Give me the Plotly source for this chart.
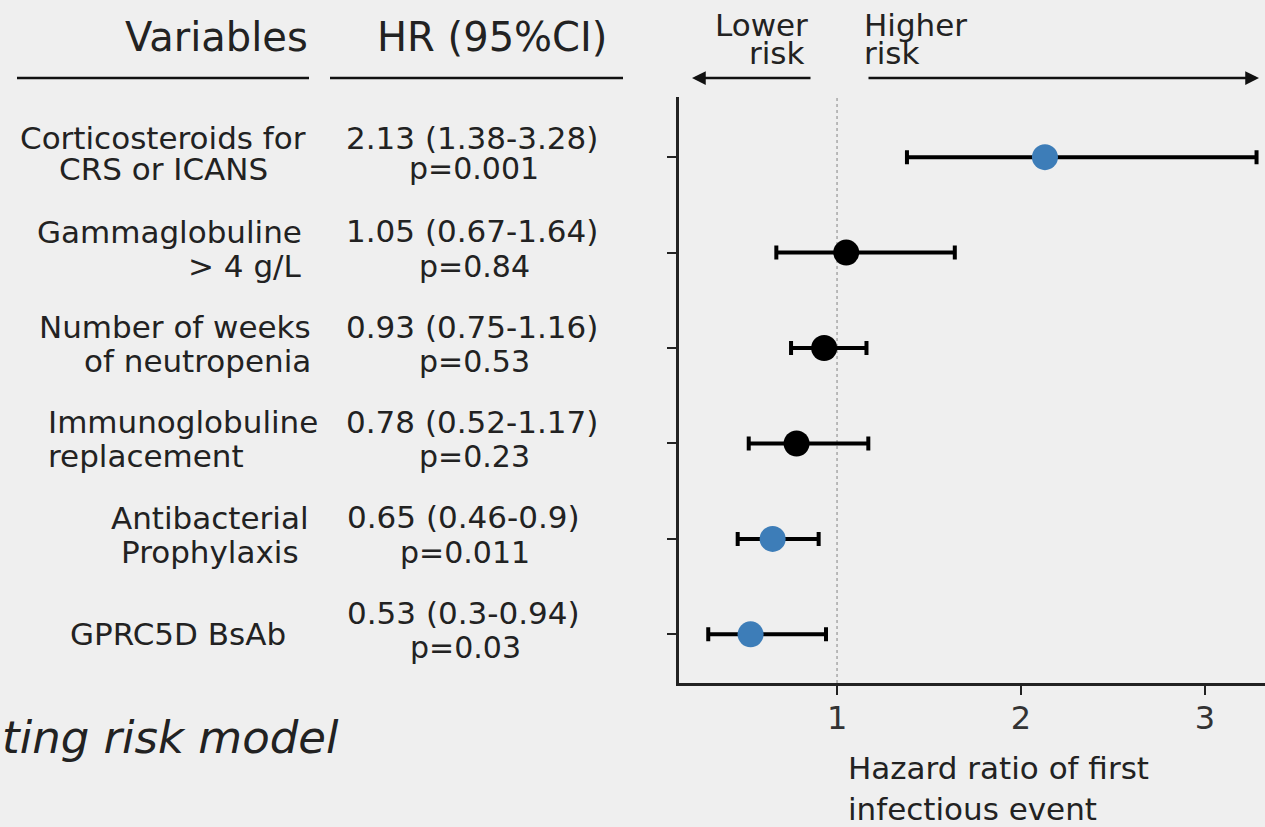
import plotly.graph_objects as go

# ---------------- data ----------------
variables = [
    "Corticosteroids for\nCRS or ICANS",
    "Gammaglobuline\n> 4 g/L",
    "Number of weeks\nof neutropenia",
    "Immunoglobuline\nreplacement",
    "Antibacterial\nProphylaxis",
    "GPRC5D BsAb",
]
hr = [2.13, 1.05, 0.93, 0.78, 0.65, 0.53]
ci_low = [1.38, 0.67, 0.75, 0.52, 0.46, 0.30]
ci_high = [3.28, 1.64, 1.16, 1.17, 0.90, 0.94]
ci_low_txt = ["1.38", "0.67", "0.75", "0.52", "0.46", "0.3"]
ci_high_txt = ["3.28", "1.64", "1.16", "1.17", "0.9", "0.94"]
p_values = ["0.001", "0.84", "0.53", "0.23", "0.011", "0.03"]
x_ticks = [1, 2, 3]

# ---------------- styling ----------------
W, H = 1265, 827
BG = "#efefef"
BLUE = "#3d7db8"
FONT = "DejaVu Sans"
TXT = "#222222"
VAR_SIZE = 31
HR_SIZE = 31
P_SIZE = 30

n = len(variables)
ypos = [n - i for i in range(n)]  # top row = n
colors = [BLUE if float(p) < 0.05 else "#000000" for p in p_values]

def px_x(px):
    return px / W

def px_y(py):
    return 1 - py / H

# approximate advance widths (em) of DejaVu Sans for the HR strings
_ADV = {".": 0.318, " ": 0.318, "(": 0.39, ")": 0.39, "-": 0.361}
def est_width(s, size):
    return sum(_ADV.get(c, 0.636) for c in s) * size * 0.922

fig = go.Figure()

fig.add_trace(go.Scatter(
    x=hr, y=ypos, mode="markers",
    marker=dict(size=26, color=colors, line=dict(width=0)),
    error_x=dict(type="data", symmetric=False,
                 array=[h - m for h, m in zip(ci_high, hr)],
                 arrayminus=[m - l for m, l in zip(hr, ci_low)],
                 color="#000000", thickness=4, width=7),
    showlegend=False, hoverinfo="skip",
))

annotations = []

# variable labels (per-row alignment as in the original layout)
var_anchor = [("center", 163), ("right", 304), ("right", 313), ("left", 46), ("center", 210), ("center", 178)]
for i, label in enumerate(variables):
    lines = label.split("\n")
    k = len(lines)
    gap = 31 if i == 0 else 34
    lift = 0 if k == 1 else 4
    anchor, xp = var_anchor[i]
    for j, ln in enumerate(lines):
        off = ((k - 1) / 2 - j) * gap + lift
        annotations.append(dict(
            x=px_x(xp), xref="paper", y=ypos[i], yref="y",
            text=ln, showarrow=False, xanchor=anchor, yanchor="middle",
            yshift=off, font=dict(family=FONT, size=VAR_SIZE, color=TXT)))

# HR column: block left edge fixed, lines centred within the block
HR_LEFT = 356
for i in range(n):
    l1 = f"{hr[i]:.2f} ({ci_low_txt[i]}-{ci_high_txt[i]})"
    l2 = f"p={p_values[i]}"
    gap = 31 if i == 0 else 35
    centre = HR_LEFT + est_width(l1, HR_SIZE) / 2
    annotations.append(dict(
        x=px_x(centre), xref="paper", y=ypos[i], yref="y",
        text=l1, showarrow=False, xanchor="center", yanchor="middle",
        yshift=gap / 2 + 4, font=dict(family=FONT, size=HR_SIZE, color=TXT)))
    annotations.append(dict(
        x=px_x(centre + 2), xref="paper", y=ypos[i], yref="y",
        text=l2, showarrow=False, xanchor="center", yanchor="middle",
        yshift=-gap / 2 + 4, font=dict(family=FONT, size=P_SIZE, color=TXT)))

# column headers
annotations.append(dict(x=px_x(310), y=px_y(37), xref="paper", yref="paper",
                        text="Variables", showarrow=False, xanchor="right", yanchor="middle",
                        font=dict(family=FONT, size=40, color=TXT)))
annotations.append(dict(x=px_x(492), y=px_y(37), xref="paper", yref="paper",
                        text="HR (95%CI)", showarrow=False, xanchor="center", yanchor="middle",
                        font=dict(family=FONT, size=40, color=TXT)))

# risk direction labels
for txt, xp, yp, anc in [("Lower", 810, 25, "right"), ("risk", 807, 53, "right"),
                         ("Higher", 862, 25, "left"), ("risk", 862, 53, "left")]:
    annotations.append(dict(x=px_x(xp), y=px_y(yp), xref="paper", yref="paper",
                            text=txt, showarrow=False, xanchor=anc, yanchor="middle",
                            font=dict(family=FONT, size=31, color=TXT)))

# arrows
annotations.append(dict(x=px_x(692), y=px_y(78), xref="paper", yref="paper", text="",
                        showarrow=True, ax=120, ay=0, arrowhead=2, arrowsize=1.1,
                        arrowwidth=2.5, arrowcolor="#111111"))
annotations.append(dict(x=px_x(1259), y=px_y(78), xref="paper", yref="paper", text="",
                        showarrow=True, ax=-392, ay=0, arrowhead=2, arrowsize=1.1,
                        arrowwidth=2.5, arrowcolor="#111111"))

# axis title
for txt, yp in [("Hazard ratio of first", 768), ("infectious event", 809)]:
    annotations.append(dict(x=px_x(846), y=px_y(yp), xref="paper", yref="paper",
                            text=txt, showarrow=False, xanchor="left", yanchor="middle",
                            font=dict(family=FONT, size=31, color=TXT)))

# clipped italic caption
annotations.append(dict(x=0, y=px_y(737), xref="paper", yref="paper",
                        text="<i>ting risk model</i>", showarrow=False,
                        xanchor="left", yanchor="middle",
                        font=dict(family=FONT, size=45, color=TXT)))

shapes = [
    dict(type="line", xref="paper", yref="paper", x0=px_x(17), x1=px_x(309),
         y0=px_y(78), y1=px_y(78), line=dict(color="#111111", width=2.5)),
    dict(type="line", xref="paper", yref="paper", x0=px_x(330), x1=px_x(623),
         y0=px_y(78), y1=px_y(78), line=dict(color="#111111", width=2.5)),
    dict(type="line", xref="x", yref="y domain", x0=1, x1=1, y0=0, y1=1,
         line=dict(color="#a8a8a8", width=1.5, dash="dot"), layer="below"),
]

fig.update_layout(
    width=W, height=H,
    margin=dict(l=0, r=0, t=0, b=0),
    paper_bgcolor=BG, plot_bgcolor=BG,
    annotations=annotations, shapes=shapes,
    xaxis=dict(domain=[px_x(679), 1], range=[0.141, 3.326],
               tickvals=x_ticks, ticktext=[str(t) for t in x_ticks],
               ticks="outside", ticklen=9, tickwidth=2, tickcolor="#222222",
               showline=True, linewidth=2.5, linecolor="#222222",
               showgrid=False, zeroline=False, ticklabelstandoff=-4,
               tickfont=dict(family=FONT, size=32, color="#333333")),
    yaxis=dict(domain=[px_y(683), px_y(97)], range=[0.49, 6.63],
               tickvals=ypos, showticklabels=False,
               ticks="outside", ticklen=9, tickwidth=2, tickcolor="#222222",
               showline=True, linewidth=2.5, linecolor="#222222",
               showgrid=False, zeroline=False),
)

fig.write_html("out.html")
